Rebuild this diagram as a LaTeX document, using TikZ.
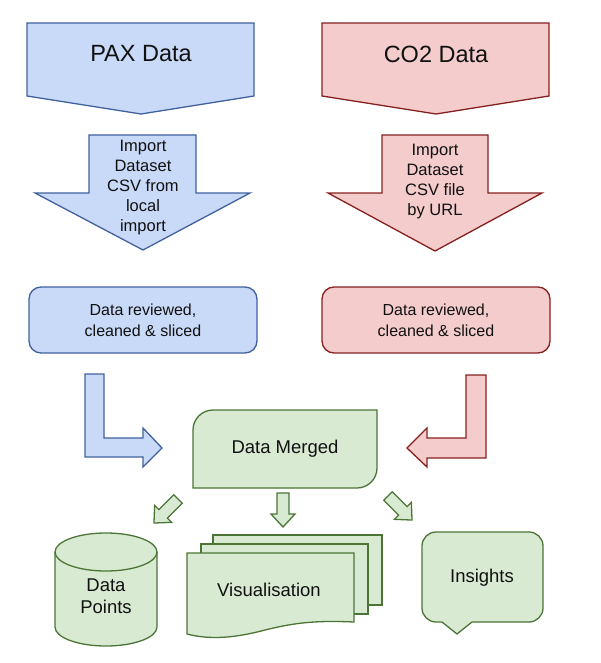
\documentclass[tikz,border=0pt]{standalone}
\usepackage{fontspec}
\setmainfont{Liberation Sans}
\definecolor{bluefill}{HTML}{C9DAF8}
\definecolor{bluedraw}{HTML}{41619E}
\definecolor{redfill}{HTML}{F4CCCC}
\definecolor{reddraw}{HTML}{85201F}
\definecolor{greenfill}{HTML}{D9EAD3}
\definecolor{greendraw}{HTML}{4B7436}
\definecolor{txt}{HTML}{111111}
\tikzset{
  blueshape/.style={fill=bluefill, draw=bluedraw, line width=1.3pt, line join=miter},
  redshape/.style={fill=redfill, draw=reddraw, line width=1.3pt, line join=miter},
  greenshape/.style={fill=greenfill, draw=greendraw, line width=1.3pt, line join=miter},
  label/.style={text=txt, align=center, inner sep=0pt},
  titletext/.style={label, font=\fontsize{23.5}{28}\selectfont},
  imptext/.style={label, font=\fontsize{16.5}{20}\selectfont},
  revtext/.style={label, font=\fontsize{16}{21}\selectfont},
  outtext/.style={label, font=\fontsize{18.5}{22}\selectfont},
}
\begin{document}
\begin{tikzpicture}[x=1pt,y=-1pt]
\useasboundingbox (0,0) rectangle (600,663);
% top pentagons
\draw[blueshape] (27,23) -- (254,23) -- (254,96) -- (141,114) -- (27,96) -- cycle;
\node[titletext] (pax) at (141,54) {PAX Data};
\draw[redshape] (322,23) -- (549,23) -- (549,96) -- (436,114) -- (322,96) -- cycle;
\node[titletext] (co2) at (436,54) {CO2 Data};
% import arrows
\draw[blueshape] (89,135) -- (196,135) -- (196,193) -- (250,193) -- (143,250) -- (35,193) -- (89,193) -- cycle;
\node[imptext] (impA) at (143,188) {Import\\Dataset\\CSV from\\local\\import};
\draw[redshape] (382,135) -- (488,135) -- (488,193) -- (542,193) -- (435,251) -- (328,193) -- (382,193) -- cycle;
\node[imptext] (impB) at (435,182) {Import\\Dataset\\CSV file\\by URL};
% reviewed boxes
\draw[blueshape, rounded corners=12] (29,287) rectangle (257,353);
\node[revtext] (revA) at (143,320) {Data reviewed,\\cleaned \& sliced};
\draw[redshape, rounded corners=12] (322,287) rectangle (550,353);
\node[revtext] (revB) at (436,320) {Data reviewed,\\cleaned \& sliced};
% L arrows
\draw[blueshape] (85,374) -- (104,374) -- (104,438) -- (143,438) -- (143,428) -- (162,448) -- (143,467) -- (143,457) -- (85,457) -- cycle;
\draw[redshape] (486,375) -- (466,375) -- (466,438) -- (427,438) -- (427,428) -- (407,448) -- (427,467) -- (427,458) -- (486,458) -- cycle;
% merged
\draw[greenshape] (193,488) -- (193,430) arc[start angle=180,end angle=270,radius=20] -- (377,410) -- (377,468) arc[start angle=0,end angle=90,radius=20] -- cycle;
\node[outtext] (merged) at (285,449) {Data Merged};
% small arrows
\begin{scope}[shift={(283,493)}]
\draw[greenshape] (-6,0) -- (6,0) -- (6,21) -- (12,21) -- (0,34) -- (-12,21) -- (-6,21) -- cycle;
\end{scope}
\begin{scope}[shift={(178,499)}, rotate=-45]
\draw[greenshape] (-6,0) -- (6,0) -- (6,21) -- (12,21) -- (0,34) -- (-12,21) -- (-6,21) -- cycle;
\end{scope}
\begin{scope}[shift={(388,496)}, rotate=45]
\draw[greenshape] (-6,0) -- (6,0) -- (6,21) -- (12,21) -- (0,34) -- (-12,21) -- (-6,21) -- cycle;
\end{scope}
% cylinder
\draw[greenshape] (55,552) -- (55,627) arc[start angle=180,end angle=0,x radius=51,y radius=19] -- (157,552) arc[start angle=0,end angle=-180,x radius=51,y radius=19] -- cycle;
\draw[greendraw, line width=1.3pt] (55,552) arc[start angle=180,end angle=0,x radius=51,y radius=19];
\node[outtext] (points) at (106,596) {Data\\Points};
% documents
\draw[greenshape] (213,535) rectangle (382,605);
\draw[greenshape] (201,544) rectangle (368,614);
\draw[greenshape] (187,553) -- (354,553) -- (354,622) .. controls (310,620) and (290,624) .. (265,630) .. controls (235,638) and (210,640) .. (187,634) -- cycle;
\node[outtext] (vis) at (269,590) {Visualisation};
% insights callout
\draw[greenshape] (442,622) -- (436,622) arc[start angle=90,end angle=180,radius=14] -- (422,546) arc[start angle=180,end angle=270,radius=14] -- (529,532) arc[start angle=270,end angle=360,radius=14] -- (543,608) arc[start angle=0,end angle=90,radius=14] -- (472,622) -- (457,634) -- cycle;
\node[outtext] (insights) at (482,578) {Insights};
\end{tikzpicture}
\end{document}
